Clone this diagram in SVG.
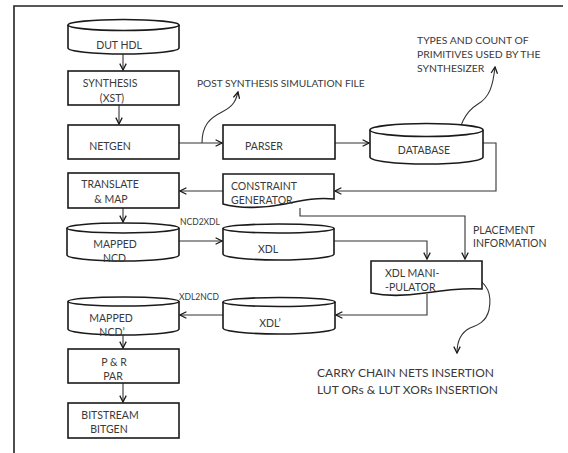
<svg xmlns="http://www.w3.org/2000/svg" width="568" height="453" viewBox="0 0 568 453">
<style>
.shape{fill:#fff;stroke:#1a1a1a;stroke-width:1.6}
.conn{fill:none;stroke:#333;stroke-width:1.1}
.lbl{font-family:Lato,"Liberation Sans",sans-serif;font-size:10.5px;fill:#3a3a3a}
.mid{text-anchor:middle}
.small{font-family:Lato,"Liberation Sans",sans-serif;font-size:8.5px;fill:#3a3a3a}
.note{font-family:Lato,"Liberation Sans",sans-serif;font-size:10.2px;fill:#3a3a3a}
.types{font-family:Lato,"Liberation Sans",sans-serif;font-size:10.4px;fill:#3a3a3a}
.big{font-family:Lato,"Liberation Sans",sans-serif;font-size:12px;fill:#3a3a3a}
</style>
<defs>
<marker id="arr" viewBox="0 0 10 10" refX="9" refY="5" markerWidth="8" markerHeight="8" markerUnits="userSpaceOnUse" orient="auto">
<path d="M1,1 L9,5 L1,9" fill="none" stroke="#1a1a1a" stroke-width="1.6"/>
</marker>
</defs>
<rect width="568" height="453" fill="#fff"/>
<path d="M14,453 V6 H563" fill="none" stroke="#222" stroke-width="1.6"/>

<g id="connectors">
<path class="conn" d="M123,54 V70" marker-end="url(#arr)"/>
<path class="conn" d="M119,105 V124" marker-end="url(#arr)"/>
<path class="conn" d="M179,143 H222" marker-end="url(#arr)"/>
<path class="conn" d="M202,143 C202,125 210,118 222,112 C234,106 236,100 238,92" marker-end="url(#arr)"/>
<path class="conn" d="M335,143 H369" marker-end="url(#arr)"/>
<path class="conn" d="M457,147 C458,125 465,112 478,104 C490,97 493,85 495,67" marker-end="url(#arr)"/>
<path class="conn" d="M483,143 H496 V191 H335" marker-end="url(#arr)"/>
<path class="conn" d="M223,191 H180" marker-end="url(#arr)"/>
<path class="conn" d="M123,208 V222" marker-end="url(#arr)"/>
<path class="conn" d="M300,208 V216 H465 V259" marker-end="url(#arr)"/>
<path class="conn" d="M179,241 H222" marker-end="url(#arr)"/>
<path class="conn" d="M334,241 H427 V259" marker-end="url(#arr)"/>
<path class="conn" d="M427,294 V315 H336" marker-end="url(#arr)"/>
<path class="conn" d="M473,278 C488,282 492,295 489,310 C486,322 478,325 470,328 C462,332 457,340 457,353" marker-end="url(#arr)"/>
<path class="conn" d="M223,315 H180" marker-end="url(#arr)"/>
<path class="conn" d="M123,335 V348" marker-end="url(#arr)"/>
<path class="conn" d="M123,383 V402" marker-end="url(#arr)"/>
</g>

<g id="dut-hdl">
<path class="shape" d="M68,25 V48 A55.5,6 0 0 0 179,48 V25"/>
<ellipse class="shape" cx="123.5" cy="25" rx="55.5" ry="5.5"/>
<text class="lbl mid" x="119" y="49">DUT HDL</text>
</g>

<g id="synthesis">
<rect class="shape" x="68" y="71" width="111" height="34"/>
<text class="lbl mid" x="110" y="87">SYNTHESIS</text>
<text class="lbl mid" x="112" y="102">(XST)</text>
</g>

<g id="netgen">
<rect class="shape" x="68" y="125" width="111" height="34"/>
<text class="lbl mid" x="110" y="150">NETGEN</text>
</g>

<g id="post-synthesis-label">
<text class="note" x="197" y="87">POST SYNTHESIS SIMULATION FILE</text>
</g>

<g id="parser">
<rect class="shape" x="223" y="125" width="112" height="34"/>
<text class="lbl mid" x="264" y="150">PARSER</text>
</g>

<g id="database">
<path class="shape" d="M370,130 V157 A56.5,7 0 0 0 483,157 V130"/>
<ellipse class="shape" cx="426.5" cy="130" rx="56.5" ry="6.5"/>
<text class="lbl mid" x="424" y="154">DATABASE</text>
</g>

<g id="types-label">
<text class="types" x="417" y="44">TYPES AND COUNT OF</text>
<text class="types" x="417" y="57.5">PRIMITIVES USED BY THE</text>
<text class="types" x="417" y="72">SYNTHESIZER</text>
</g>

<g id="translate-map">
<rect class="shape" x="68" y="173" width="111" height="35"/>
<text class="lbl mid" x="110" y="188">TRANSLATE</text>
<text class="lbl mid" x="111" y="203">&amp; MAP</text>
</g>

<g id="constraint-generator">
<path class="shape" d="M223,174 H334 V199 C315,197 300,201 285,204 C265,208 240,209 223,204 Z"/>
<text class="lbl" x="231" y="190">CONSTRAINT</text>
<text class="lbl" x="231" y="204">GENERATOR</text>
</g>

<g id="ncd2xdl-label">
<text class="small" x="180" y="225">NCD2XDL</text>
</g>

<g id="mapped-ncd">
<path class="shape" d="M67,228 V255 A56,6 0 0 0 179,255 V228"/>
<ellipse class="shape" cx="123" cy="228" rx="56" ry="5"/>
<text class="lbl mid" x="115" y="248">MAPPED</text>
<text class="lbl mid" x="114.5" y="262">NCD</text>
</g>

<g id="xdl">
<path class="shape" d="M223,228.5 V254 A55.5,6 0 0 0 334,254 V228.5"/>
<ellipse class="shape" cx="278.5" cy="228.5" rx="55.5" ry="4.5"/>
<text class="lbl mid" x="268" y="253">XDL</text>
</g>

<g id="placement-label">
<text class="lbl" x="473" y="234">PLACEMENT</text>
<text class="lbl" x="473" y="247">INFORMATION</text>
</g>

<g id="xdl-manipulator">
<path class="shape" d="M371,261 H482 V289 C465,288 445,290 425,293 C405,296 385,296 371,293 Z"/>
<text class="lbl" x="385" y="277">XDL MANI-</text>
<text class="lbl" x="385" y="291">-PULATOR</text>
</g>

<g id="xdl2ncd-label">
<text class="small" x="179" y="300">XDL2NCD</text>
</g>

<g id="xdl-prime">
<path class="shape" d="M223,302 V328 A56,6 0 0 0 335,328 V302"/>
<ellipse class="shape" cx="279" cy="302" rx="56" ry="4.5"/>
<text class="lbl mid" x="270" y="327">XDL’</text>
</g>

<g id="mapped-ncd-prime">
<path class="shape" d="M68,301.5 V329 A55.5,6 0 0 0 179,329 V301.5"/>
<ellipse class="shape" cx="123.5" cy="301.5" rx="55.5" ry="4.5"/>
<text class="lbl mid" x="111" y="322">MAPPED</text>
<text class="lbl mid" x="112" y="336">NCD’</text>
</g>

<g id="carry-label">
<text class="big" x="317" y="376.5">CARRY CHAIN NETS INSERTION</text>
<text class="big" x="317" y="393.5">LUT ORs &amp; LUT XORs INSERTION</text>
</g>

<g id="p-and-r">
<rect class="shape" x="68" y="349" width="111" height="34"/>
<text class="lbl mid" x="114" y="366">P &amp; R</text>
<text class="lbl mid" x="113" y="380">PAR</text>
</g>

<g id="bitstream">
<rect class="shape" x="68" y="403" width="111" height="35"/>
<text class="lbl mid" x="110" y="419">BITSTREAM</text>
<text class="lbl mid" x="109" y="433">BITGEN</text>
</g>
</svg>
